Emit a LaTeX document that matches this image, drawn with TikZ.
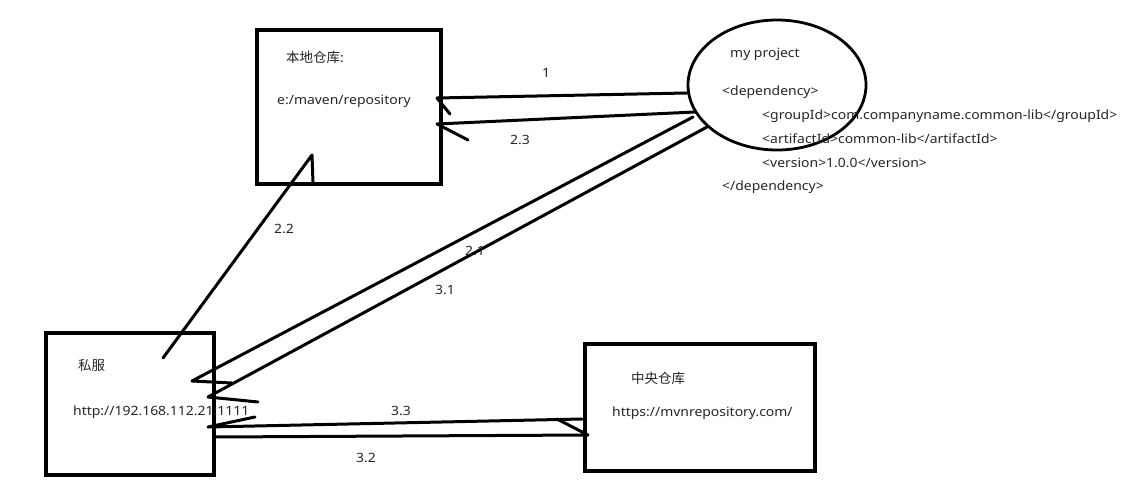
\documentclass[tikz,border=0pt]{standalone}
\usepackage{fontspec}
\setmainfont{Noto Sans}[FakeStretch=1.09]
\newfontfamily\cjk{Noto Sans CJK SC}
\usetikzlibrary{shapes.geometric}
\begin{document}
\begin{tikzpicture}[x=1pt,y=-1pt,
  box/.style={draw, line width=3.2pt, inner sep=0pt},
  txt/.style={inner sep=0pt, anchor=west, font=\fontsize{12.8}{15}\selectfont, text=black!85},
  ctxt/.style={inner sep=0pt, anchor=west, font=\cjk\fontsize{13.5}{15}\selectfont, text=black!85},
  num/.style={inner sep=0pt, font=\fontsize{12.8}{15}\selectfont, text=black!85},
  stroke/.style={line width=3pt, line cap=round, line join=round}]
\useasboundingbox (0,0) rectangle (1134,484);
\fill[white] (0,0) rectangle (1134,484);

% boxes
\node[box, minimum width=184pt, minimum height=154pt] (local) at (349,107) {};
\node[box, minimum width=168pt, minimum height=142pt] (priv) at (130,404) {};
\node[box, minimum width=230pt, minimum height=127pt] (central) at (700,407.5) {};
\node[box, ellipse, line width=2.8pt, minimum width=178pt, minimum height=130pt] (proj) at (777,85) {};

% texts
\node[ctxt] (t1) at (286,57) {本地仓库:};
\node[txt] (t2) at (277,101) {e:/maven/repository};
\node[txt] (t3) at (730,54) {my project};
\node[txt] (t4) at (722,92) {<dependency>};
\node[txt] (t5) at (762,116) {<groupId>com.companyname.common-lib</groupId>};
\node[txt] (t6) at (762,139) {<artifactId>common-lib</artifactId>};
\node[txt] (t7) at (762,163) {<version>1.0.0</version>};
\node[txt] (t8) at (722,187) {</dependency>};
\node[ctxt] (t9) at (78,365) {私服};
\node[txt] (t10) at (73,412) {http://192.168.112.21:1111};
\node[ctxt] (t11) at (631,378) {中央仓库};
\node[txt] (t12) at (612,413) {https://mvnrepository.com/};

% connector end points
\coordinate (a1s) at (687,93);   \coordinate (a1e) at (437,98);   \coordinate (a1h) at (450,114);
\coordinate (a23s) at (695,112); \coordinate (a23e) at (437,124); \coordinate (a23h) at (468,140);
\coordinate (a22s) at (163,358); \coordinate (a22e) at (312,155); \coordinate (a22h) at (313,183);
\coordinate (a21s) at (693,117); \coordinate (a21e) at (192,381); \coordinate (a21h) at (232,383);
\coordinate (a31s) at (707,127); \coordinate (a31e) at (208,397); \coordinate (a31h) at (258,402);
\coordinate (a33s) at (582,419); \coordinate (a33e) at (208,427); \coordinate (a33h) at (255,417);
\coordinate (a32s) at (215,437); \coordinate (a32e) at (588,435); \coordinate (a32h) at (557,419);

% connectors
\draw[stroke] (a1s) -- (a1e) -- (a1h);
\draw[stroke] (a23s) -- (a23e) -- (a23h);
\draw[stroke] (a22s) -- (a22e) -- (a22h);
\draw[stroke] (a21s) -- (a21e) -- (a21h);
\draw[stroke] (a31s) -- (a31e) -- (a31h);
\draw[stroke] (a33s) -- (a33e) -- (a33h);
\draw[stroke] (a32s) -- (a32e) -- (a32h);

% labels
\node[num] (l1) at (546,73) {1};
\node[num] (l23) at (520,140) {2.3};
\node[num] (l22) at (284,229) {2.2};
\node[num] (l21) at (475,251) {2.1};
\node[num] (l31) at (445,290) {3.1};
\node[num] (l33) at (401,411) {3.3};
\node[num] (l32) at (366,458) {3.2};
\end{tikzpicture}
\end{document}
